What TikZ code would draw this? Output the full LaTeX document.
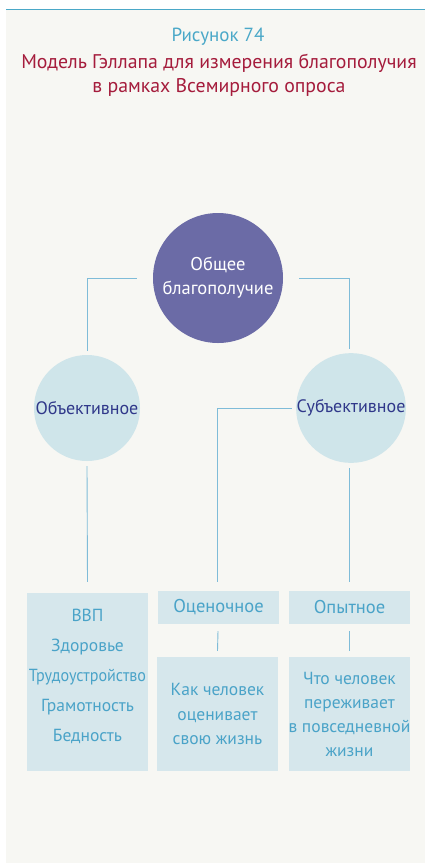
\documentclass[tikz,border=0pt]{standalone}
\usepackage{fontspec}
\setmainfont{PT Sans}
\definecolor{paper}{HTML}{F7F7F3}
\definecolor{figblue}{HTML}{4AA8C8}
\definecolor{figred}{HTML}{A51C3C}
\definecolor{darkdot}{HTML}{6B6BA6}
\definecolor{lightdot}{HTML}{CFE5EA}
\definecolor{dotink}{HTML}{30388A}
\definecolor{boxfill}{HTML}{D6E7EC}
\definecolor{boxink}{HTML}{4AA3C8}
\definecolor{linkblue}{HTML}{7FBCD8}
\tikzset{
  bigdot/.style={circle, fill=darkdot, text=white, minimum size=130pt, inner sep=0pt, align=center, font=\fontsize{18.5}{24}\selectfont},
  smalldot/.style={circle, fill=lightdot, text=dotink, minimum size=106pt, inner sep=0pt, font=\fontsize{18}{20}\selectfont},
  headbox/.style={fill=boxfill, text=boxink, minimum width=121pt, minimum height=33pt, inner sep=0pt, font=\fontsize{18.5}{20}\selectfont},
  bodybox/.style={fill=boxfill, text=boxink, minimum width=121pt, inner sep=0pt, align=center},
  link/.style={draw=linkblue, line width=0.9pt}
}
\begin{document}
\begin{tikzpicture}[x=1pt, y=-1pt]
    \useasboundingbox (0,0) rectangle (425,863);
    \fill[paper] (6,10) rectangle (425,863);
    \draw[figblue, line width=1.2pt] (6,9.5) -- (425,9.5);
    % title
    \node[text=figblue, font=\fontsize{19}{22}\selectfont] (fignum) at (218,37) {Рисунок 74};
    \node[text=figred, align=center, font=\fontsize{19.8}{24}\selectfont] (figtitle) at (219,75) {Модель Гэллапа для измерения благополучия\\в рамках Всемирного опроса};
    % circles
    \node[bigdot] (total) at (218,278) {Общее\\благополучие};
    \node[smalldot] (obj) at (87,408) {Объективное};
    \node[smalldot] (subj) at (351,408) {Субъективное};
    % boxes
    \node[bodybox, minimum height=178pt] (vvp) at (87.5,682) {};
    \node[text=boxink, align=center, font=\fontsize{17.5}{30}\selectfont] (vvptext) at ([yshift=6pt]vvp.center) {ВВП\\Здоровье\\\scalebox{0.92}[1]{Трудоустройство}\\Грамотность\\Бедность};
    \node[headbox] (ocen) at (218.5,607.5) {Оценочное};
    \node[bodybox, minimum height=114pt, font=\fontsize{17.5}{24.5}\selectfont] (ocenlow) at (217.5,714) {Как человек\\оценивает\\свою жизнь};
    \node[headbox] (opyt) at (349.5,607.5) {Опытное};
    \node[bodybox, minimum height=114pt, font=\fontsize{17.5}{24}\selectfont] (opytlow) at (349.5,714) {Что человек\\переживает\\в повседневной\\жизни};
    % connectors
    \draw[link] ([xshift=-16pt]total.west) -| ([yshift=4pt]obj.north);
    \draw[link] ([xshift=16pt]total.east) -| ([xshift=-2pt, yshift=4pt]subj.north);
    \draw[link] ([xshift=-4pt]subj.west) -| ([xshift=-1pt, yshift=9pt]ocen.north);
    \draw[link] ([yshift=-5pt]obj.south) -- ([yshift=11pt]vvp.north);
    \draw[link] ([xshift=-2pt, yshift=-5pt]subj.south) -- ([xshift=-0.5pt, yshift=9pt]opyt.north);
    \draw[link] ([xshift=-0.5pt, yshift=-7pt]ocen.south) -- ([yshift=6pt]ocenlow.north);
    \draw[link] ([yshift=-7pt]opyt.south) -- ([yshift=6pt]opytlow.north);
\end{tikzpicture}
\end{document}
